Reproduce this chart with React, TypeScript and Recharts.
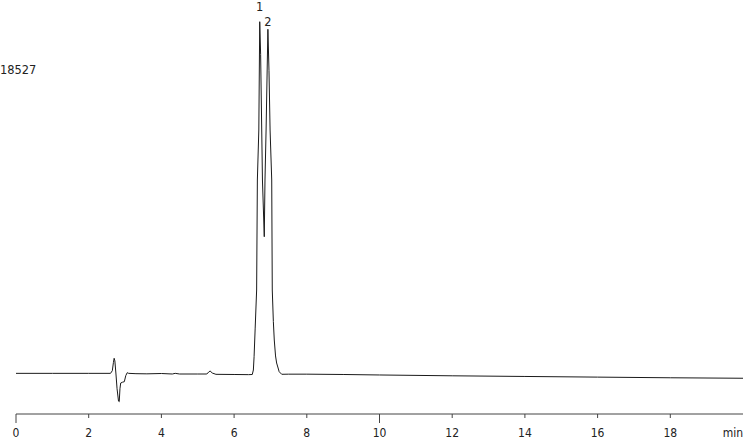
import { LineChart, Line, XAxis, YAxis, ReferenceDot } from 'recharts';

// retention time (min) and detector signal
const times = [
  0, 1, 2, 2.6, 2.65, 2.68, 2.7, 2.72, 2.75, 2.78, 2.82, 2.84, 2.86, 2.88, 2.93, 2.98, 3.02, 3.06,
  3.1, 3.3, 3.6, 4.0, 4.3, 4.38, 4.5, 5.0, 5.25, 5.3, 5.34, 5.4, 5.5, 6.0, 6.4, 6.5, 6.53, 6.55,
  6.58, 6.62, 6.64, 6.68, 6.705, 6.73, 6.76, 6.78, 6.83, 6.85, 6.88, 6.93, 6.96, 6.99, 7.035, 7.05,
  7.08, 7.105, 7.14, 7.17, 7.24, 7.31, 7.5, 8, 9, 10, 12, 14, 16, 18, 20,
];
const signal = [
  40, 40, 40, 40, 200, 700, 958, 800, 0, -900, -1650, -1690, -900, -550, -500, -470, -100, 80,
  40, 20, 10, 30, 0, 40, 0, 0, 0, 120, 183, 60, -20, -30, -40, -30, 244, 1055,
  2800, 5124, 11834, 14884, 21490, 19500, 14884, 11834, 8375, 11834, 14884, 21027, 18500, 14884, 11834, 5124,
  3200, 2074, 1100, 671, 140, -18, -10, -10, -30, -60, -110, -150, -190, -230, -260,
];

const peakTimes = [6.705, 6.93];
const peakHeights = [21490, 21027];
const peakNames = ['1', '2'];
const peakLabelOffsets = [11, 3.3];

const xTicks = [0, 2, 4, 6, 8, 10, 12, 14, 16, 18, 20];
const xTickLabels = ['0', '2', '4', '6', '8', '10', '12', '14', '16', '18', 'min'];
const yTicks = [18527];

const data = times.map((t, i) => ({ t, v: signal[i] }));

const FONT = "'DejaVu Sans Condensed', 'DejaVu Sans', sans-serif";

type TickProps = { x?: number; y?: number; payload?: { value: number } };

function XTick({ x = 0, y = 0, payload }: TickProps) {
  const value = payload ? payload.value : 0;
  const idx = xTicks.indexOf(value);
  const isUnit = value === 20;
  const major = value % 10 === 0;
  return (
    <g>
      {!isUnit && <line x1={x} x2={x} y1={y} y2={y + (major ? 9 : 4)} stroke="#444" strokeWidth={1} />}
      <text
        x={x}
        y={y + 23}
        textAnchor={isUnit ? 'end' : 'middle'}
        fontSize={12}
        fontFamily={FONT}
        style={{ fontStretch: 'condensed' }}
        fill="#222"
      >
        {xTickLabels[idx]}
      </text>
    </g>
  );
}

function YTick({ y = 0, payload }: TickProps) {
  return (
    <text x={0} y={y} dy={3.5} textAnchor="start" fontSize={12.7} fontFamily={FONT} style={{ fontStretch: 'condensed' }} fill="#222">
      {payload ? String(payload.value) : ''}
    </text>
  );
}

export default function App() {
  return (
    <div style={{ position: 'absolute', left: 0, top: 0, background: '#fff' }}>
      <LineChart width={750} height={441} data={data} margin={{ top: 0, right: 7, bottom: 0, left: 0 }}>
        <XAxis
          type="number"
          dataKey="t"
          domain={[0, 20]}
          ticks={xTicks}
          interval={0}
          tick={<XTick />}
          tickLine={false}
          tickSize={0}
          tickMargin={0}
          height={27}
          axisLine={{ stroke: '#444', strokeWidth: 1 }}
        />
        <YAxis
          type="number"
          domain={[-2440, 22814]}
          ticks={yTicks}
          width={16}
          axisLine={false}
          tickLine={false}
          tick={<YTick />}
          allowDataOverflow
        />
        <Line
          type="linear"
          dataKey="v"
          stroke="#1a1a1a"
          strokeWidth={1}
          dot={false}
          isAnimationActive={false}
        />
        {peakTimes.map((t, i) => (
          <ReferenceDot
            key={peakNames[i]}
            x={t}
            y={peakHeights[i]}
            r={0}
            fill="none"
            stroke="none"
            label={{
              value: peakNames[i],
              position: 'top',
              offset: peakLabelOffsets[i],
              fontSize: 12.7,
              fontFamily: FONT,
              fill: '#222',
            }}
          />
        ))}
      </LineChart>
    </div>
  );
}
